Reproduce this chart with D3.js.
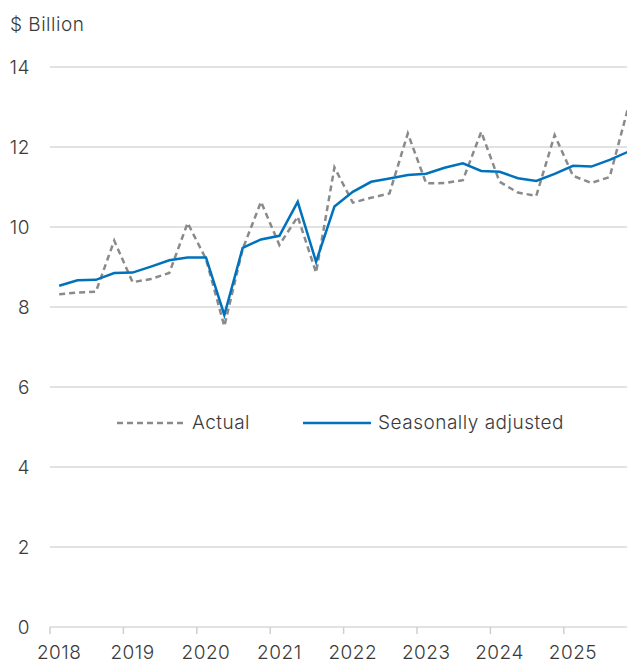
<!DOCTYPE html>
<html>
<head>
<meta charset="utf-8">
<script src="https://cdn.jsdelivr.net/npm/d3@7"></script>
<style>
  html, body { margin: 0; padding: 0; background: #fff; }
  svg { display: block; }
  text { font-family: "Inter", "Roboto", "Noto Sans", sans-serif; font-weight: 300; fill: #3a3a3a; letter-spacing: 0.5px; }
</style>
</head>
<body>
<svg id="chart" width="627" height="664"></svg>
<script>
const years = ["2018","2019","2020","2021","2022","2023","2024","2025"];
const quarters = years.flatMap(y => ["Q1","Q2","Q3","Q4"].map(q => y + q));
const actual = [8.32, 8.36, 8.38, 9.66, 8.62, 8.70, 8.85, 10.10, 9.20, 7.52, 9.45, 10.63, 9.55, 10.26, 8.86, 11.49, 10.61, 10.73, 10.84, 12.34, 11.09, 11.10, 11.17, 12.38, 11.13, 10.86, 10.78, 12.30, 11.28, 11.10, 11.25, 12.97];
const adjusted = [8.53, 8.67, 8.68, 8.85, 8.86, 9.01, 9.17, 9.24, 9.24, 7.80, 9.48, 9.69, 9.78, 10.63, 9.13, 10.51, 10.88, 11.13, 11.21, 11.30, 11.33, 11.48, 11.59, 11.40, 11.38, 11.22, 11.15, 11.33, 11.53, 11.51, 11.68, 11.88];
const yTicks = [0, 2, 4, 6, 8, 10, 12, 14];
const seriesNames = ["Actual", "Seasonally adjusted"];

const svg = d3.select("#chart");
const mLeft = 50, mRight = 627, mTop = 67, mBottom = 627;
const step = 18.35;

const x = d3.scaleBand().domain(quarters).range([mLeft, mLeft + step * quarters.length]).paddingInner(0).paddingOuter(0);
const y = d3.scaleLinear().domain([0, 14]).range([mBottom, mTop]);
const cx = q => x(q) + x.bandwidth() / 2;

// gridlines
svg.append("g").selectAll("line").data(yTicks).join("line")
  .attr("x1", mLeft).attr("x2", mRight)
  .attr("y1", d => y(d)).attr("y2", d => y(d))
  .attr("stroke", "#d9d9d9").attr("stroke-width", 1.5);

// y labels
svg.append("g").selectAll("text").data(yTicks).join("text")
  .attr("x", 30).attr("y", d => y(d) + 7)
  .attr("text-anchor", "end").attr("font-size", 19)
  .text(d => d);

svg.append("text").attr("x", 10).attr("y", 31).attr("font-size", 19).text("$ Billion");

// x ticks
svg.append("g").selectAll("line").data(years).join("line")
  .attr("x1", d => x(d + "Q1")).attr("x2", d => x(d + "Q1"))
  .attr("y1", mBottom).attr("y2", mBottom + 7)
  .attr("stroke", "#cfcfcf").attr("stroke-width", 1.5);

svg.append("g").selectAll("text").data(years).join("text")
  .attr("x", d => cx(d + "Q1")).attr("y", 659)
  .attr("text-anchor", "middle").attr("font-size", 19)
  .text(d => d);

const line = d3.line().x((d, i) => cx(quarters[i])).y(d => y(d));

svg.append("path").datum(actual)
  .attr("d", line).attr("fill", "none")
  .attr("stroke", "#8a8a8a").attr("stroke-width", 2.5)
  .attr("stroke-dasharray", "6,4");

svg.append("path").datum(adjusted)
  .attr("d", line).attr("fill", "none")
  .attr("stroke", "#0072bc").attr("stroke-width", 2.5);

// legend
const lg = svg.append("g");
lg.append("line").attr("x1", 117).attr("x2", 185).attr("y1", 423).attr("y2", 423)
  .attr("stroke", "#8a8a8a").attr("stroke-width", 2.5).attr("stroke-dasharray", "6,4");
lg.append("text").attr("x", 192).attr("y", 429).attr("font-size", 19).text(seriesNames[0]);
lg.append("line").attr("x1", 303).attr("x2", 371).attr("y1", 423).attr("y2", 423)
  .attr("stroke", "#0072bc").attr("stroke-width", 2.5);
lg.append("text").attr("x", 378).attr("y", 429).attr("font-size", 19).text(seriesNames[1]);
</script>
</body>
</html>
